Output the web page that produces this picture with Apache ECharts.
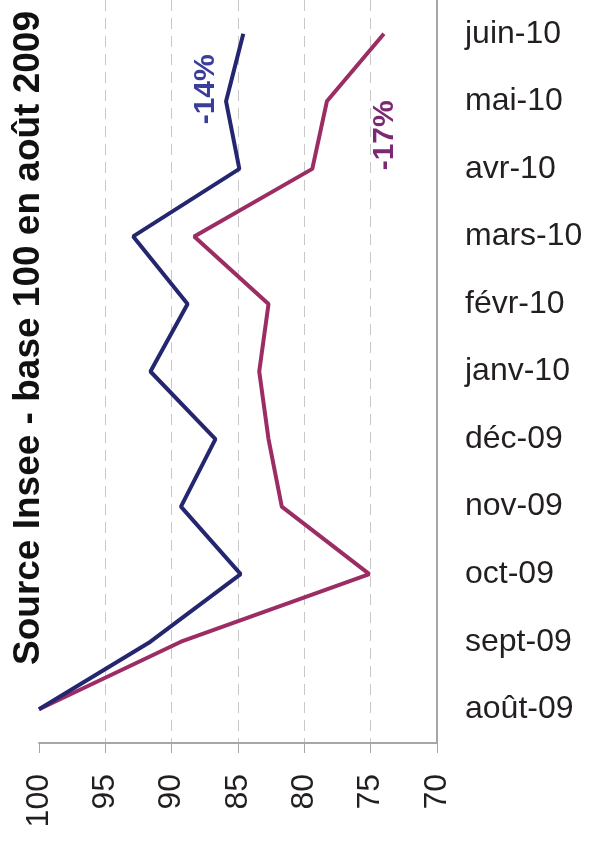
<!DOCTYPE html>
<html>
<head>
<meta charset="utf-8">
<script src="https://cdn.jsdelivr.net/npm/echarts@6/dist/echarts.min.js"></script>
<style>
html,body{margin:0;padding:0;background:#fff;}
#c{width:590px;height:843px;}
</style>
</head>
<body>
<div id="c"></div>
<script>
var categories = ['août-09','sept-09','oct-09','nov-09','déc-09','janv-10','févr-10','mars-10','avr-10','mai-10','juin-10'];
var seriesBlue = [100, 91.6, 84.8, 89.3, 86.7, 91.6, 88.8, 92.9, 84.9, 85.9, 84.6];
var seriesPurple = [100, 89.3, 75.1, 81.7, 82.7, 83.4, 82.7, 88.3, 79.4, 78.3, 74.0];
var valueTicks = [70, 75, 80, 85, 90, 95, 100];
var titleText = 'Source Insee - base 100 en août 2009';
var blueNote = '-14%';
var purpleNote = '-17%';

var chart = echarts.init(document.getElementById('c'), null, {renderer: 'canvas'});
var FONT = '"Liberation Sans", Arial, sans-serif';
var option = {
  animation: false,
  backgroundColor: '#ffffff',
  grid: {left: 39, right: 153, top: -8, bottom: 100, containLabel: false},
  xAxis: {
    type: 'value',
    inverse: true,
    min: valueTicks[0],
    max: valueTicks[valueTicks.length - 1],
    interval: 5,
    position: 'bottom',
    axisLine: {show: true, lineStyle: {color: '#a6a6a6', width: 2}},
    axisTick: {show: true, length: 10, lineStyle: {color: '#a6a6a6', width: 1}},
    axisLabel: {rotate: 90, margin: 31, color: '#231f20', fontSize: 32, fontFamily: FONT},
    splitLine: {show: true, showMinLine: false, showMaxLine: false, lineStyle: {color: '#c8c8c8', width: 1, type: [11, 7]}}
  },
  yAxis: {
    type: 'category',
    data: categories,
    position: 'right',
    boundaryGap: true,
    axisLine: {show: true, lineStyle: {color: '#a6a6a6', width: 2}},
    axisTick: {show: false},
    axisLabel: {margin: 28, color: '#231f20', fontSize: 32, fontFamily: FONT, align: 'left'},
    splitLine: {show: false}
  },
  series: [
    {type: 'line', data: seriesBlue, symbol: 'none', lineStyle: {color: '#24266f', width: 4}, z: 3},
    {type: 'line', data: seriesPurple, symbol: 'none', lineStyle: {color: '#9b2c64', width: 4}, z: 2}
  ]
};
chart.setOption(option);

var pb = chart.convertToPixel({gridIndex: 0}, [seriesBlue[9], categories[9]]);
var pp = chart.convertToPixel({gridIndex: 0}, [seriesPurple[9], categories[9]]);
chart.setOption({
  graphic: [
    {type: 'text', x: 29, y: 338, rotation: Math.PI / 2,
     style: {text: titleText, font: 'bold 37px ' + FONT, fill: '#111111', align: 'center', verticalAlign: 'middle'}},
    {type: 'text', x: pb[0] - 20, y: pb[1] - 12, rotation: Math.PI / 2,
     style: {text: blueNote, font: 'bold 30px ' + FONT, fill: '#3a3d9a', align: 'center', verticalAlign: 'middle'}},
    {type: 'text', x: pp[0] + 58, y: pp[1] + 34, rotation: Math.PI / 2,
     style: {text: purpleNote, font: 'bold 30px ' + FONT, fill: '#7b2a72', align: 'center', verticalAlign: 'middle'}}
  ]
});
</script>
</body>
</html>
